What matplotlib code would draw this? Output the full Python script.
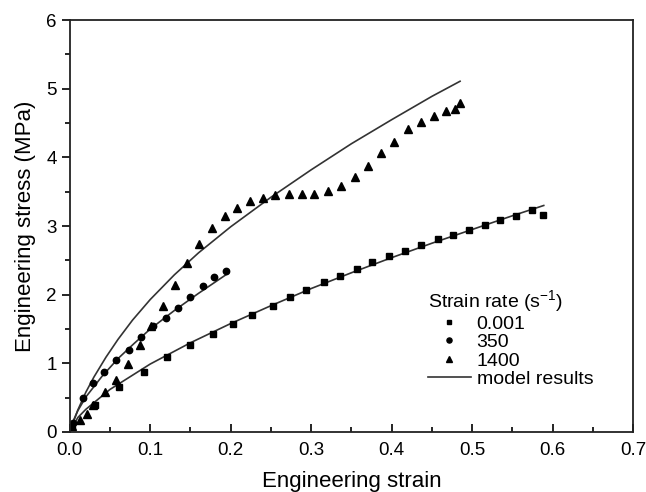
import matplotlib.pyplot as plt
from matplotlib.ticker import MultipleLocator

plt.rcParams['font.family'] = ['Liberation Sans', 'DejaVu Sans']
plt.rcParams['mathtext.fontset'] = 'custom'
plt.rcParams['mathtext.rm'] = 'Liberation Sans'
plt.rcParams['mathtext.it'] = 'Liberation Sans'

# measured points, strain rate 0.001 /s
sq_x = [0.003, 0.031, 0.061, 0.092, 0.121, 0.150, 0.178, 0.203, 0.226, 0.252,
        0.274, 0.294, 0.316, 0.336, 0.357, 0.376, 0.397, 0.417, 0.436, 0.458,
        0.476, 0.496, 0.516, 0.535, 0.555, 0.574, 0.588]
sq_y = [0.10, 0.39, 0.65, 0.88, 1.09, 1.26, 1.43, 1.58, 1.71, 1.84,
        1.96, 2.07, 2.18, 2.27, 2.38, 2.47, 2.56, 2.64, 2.72, 2.81,
        2.87, 2.95, 3.02, 3.09, 3.15, 3.23, 3.16]

# strain rate 350 /s
ci_x = [0.004, 0.016, 0.029, 0.043, 0.058, 0.073, 0.089, 0.104, 0.119, 0.134,
        0.150, 0.165, 0.179, 0.194]
ci_y = [0.13, 0.49, 0.72, 0.88, 1.05, 1.19, 1.39, 1.54, 1.66, 1.81,
        1.97, 2.12, 2.26, 2.35]

# strain rate 1400 /s
tr_x = [0.003, 0.013, 0.021, 0.029, 0.044, 0.058, 0.072, 0.087, 0.101, 0.116,
        0.131, 0.146, 0.161, 0.177, 0.193, 0.208, 0.224, 0.240, 0.255, 0.272,
        0.288, 0.304, 0.321, 0.337, 0.354, 0.370, 0.387, 0.403, 0.420, 0.436,
        0.453, 0.468, 0.479, 0.485]
tr_y = [0.08, 0.18, 0.26, 0.39, 0.58, 0.76, 0.99, 1.26, 1.55, 1.83,
        2.14, 2.46, 2.74, 2.97, 3.14, 3.26, 3.36, 3.41, 3.45, 3.47,
        3.47, 3.47, 3.51, 3.59, 3.72, 3.87, 4.06, 4.23, 4.42, 4.51,
        4.60, 4.67, 4.71, 4.80]

# model curves
m1_x = [0, 0.01, 0.02, 0.05, 0.1, 0.15, 0.2, 0.25, 0.3, 0.35, 0.4, 0.45, 0.5, 0.55, 0.589]
m1_y = [0, 0.21, 0.33, 0.62, 0.99, 1.30, 1.58, 1.84, 2.09, 2.32, 2.54, 2.75, 2.95, 3.15, 3.30]

m2_x = [0, 0.005, 0.01, 0.02, 0.04, 0.06, 0.08, 0.1, 0.13, 0.16, 0.194]
m2_y = [0, 0.18, 0.31, 0.51, 0.81, 1.07, 1.29, 1.50, 1.77, 2.02, 2.29]

m3_x = [0, 0.01, 0.02, 0.03, 0.045, 0.06, 0.078, 0.1, 0.13, 0.16, 0.2, 0.25,
        0.3, 0.35, 0.4, 0.45, 0.485]
m3_y = [0, 0.32, 0.58, 0.80, 1.09, 1.35, 1.63, 1.93, 2.29, 2.61, 2.99, 3.42,
        3.82, 4.20, 4.55, 4.89, 5.11]

fig = plt.figure(figsize=(6.46, 4.92), dpi=100)
ax = fig.add_axes([0.108, 0.122, 0.872, 0.837])

lc = '#333333'
ax.plot(m1_x, m1_y, color=lc, lw=1.2)
ax.plot(m2_x, m2_y, color=lc, lw=1.2)
ax.plot(m3_x, m3_y, color=lc, lw=1.2, label='model results')
ax.plot(sq_x, sq_y, 's', color='k', ms=4.2, ls='none', label='0.001')
ax.plot(ci_x, ci_y, 'o', color='k', ms=4.6, ls='none', label='350')
ax.plot(tr_x, tr_y, '^', color='k', ms=5.2, ls='none', label='1400')

ax.set_xlim(0, 0.7)
ax.set_ylim(0, 6)
ax.xaxis.set_major_locator(MultipleLocator(0.1))
ax.xaxis.set_minor_locator(MultipleLocator(0.05))
ax.yaxis.set_major_locator(MultipleLocator(1))
ax.yaxis.set_minor_locator(MultipleLocator(0.5))
ax.xaxis.set_major_formatter(plt.FormatStrFormatter('%.1f'))
ax.tick_params(axis='x', which='major', direction='in', length=6, width=1.2, labelsize=13.5, pad=7)
ax.tick_params(axis='x', which='minor', direction='in', length=3.5, width=1.2)
ax.tick_params(axis='y', which='major', direction='out', length=6, width=1.2, labelsize=13.5)
ax.tick_params(axis='y', which='minor', direction='out', length=3.5, width=1.2)
for s in ax.spines.values():
    s.set_linewidth(1.3)
    s.set_color('#222222')

ax.set_xlabel('Engineering strain', fontsize=16, labelpad=9)
ax.set_ylabel('Engineering stress (MPa)', fontsize=16, labelpad=7)

h, l = ax.get_legend_handles_labels()
order = [1, 2, 3, 0]
leg = ax.legend([h[i] for i in order], [l[i] for i in order],
                title='Strain rate (s$^{-1}$)', loc='upper left',
                bbox_to_anchor=(0.636, 0.350), frameon=False, fontsize=14,
                title_fontsize=14, markerscale=0.8, handlelength=2.2,
                labelspacing=0.04, handletextpad=0.3, borderpad=0,
                borderaxespad=0)
leg._legend_box.align = 'left'
leg._legend_box.sep = 1

fig.savefig('out.png', dpi=100)
